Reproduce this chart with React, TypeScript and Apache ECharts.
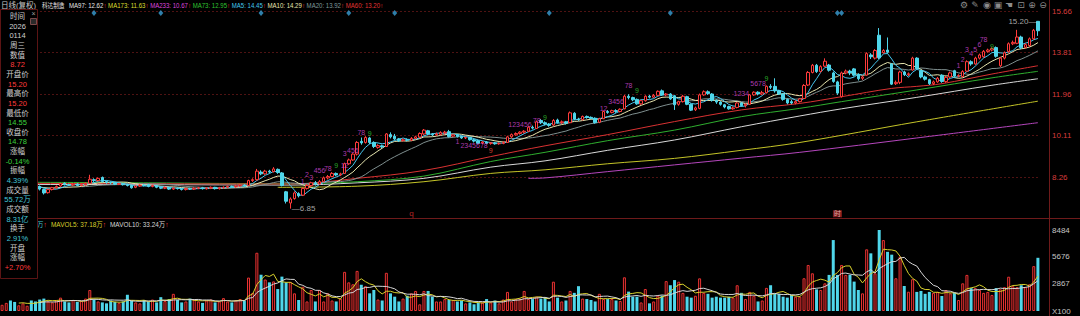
import React, { useEffect, useRef } from 'react';
import * as echarts from 'echarts';

const FONT = '"Liberation Sans", "Noto Sans CJK SC", sans-serif';
const UP = '#ff3b3b';
const DOWN = '#4fd6ea';
const GREEN = '#3cd23c';
const TEAL = '#42c6d8';
const LABEL = '#cfcfcf';

// [open, close, low, high]
const candlesPre = [
  [7.78,7.82,7.74,7.86],[7.82,7.86,7.78,7.90],[7.88,7.80,7.76,7.92],[7.80,7.76,7.72,7.84],[7.76,7.80,7.72,7.84],
  [7.80,7.84,7.76,7.88],[7.84,7.86,7.80,7.90],[7.90,7.84,7.80,7.92],[7.86,7.84,7.80,7.90]];
const candlesA = [
  [7.84,7.72,7.66,7.88],[7.70,7.55,7.48,7.74],[7.56,7.70,7.52,7.74],[7.70,7.78,7.66,7.82],[7.78,7.84,7.74,7.88],
  [7.86,7.96,7.82,8.00],[7.98,7.92,7.88,8.02],[7.92,7.90,7.86,7.96],[7.90,7.94,7.86,7.98],[7.94,7.88,7.84,7.98],
  [7.88,7.92,7.85,7.96],[7.92,7.98,7.88,8.02],[7.98,8.16,7.95,8.36],[8.14,8.10,8.04,8.20],[8.10,8.20,8.06,8.24],
  [8.24,8.06,8.02,8.28],[8.06,8.02,7.96,8.10],[8.02,8.00,7.94,8.06],[8.00,7.94,7.90,8.04],[7.94,7.96,7.90,8.00],
  [7.96,7.92,7.88,7.99],[7.92,7.88,7.84,7.96],[7.88,7.78,7.74,7.92],[7.80,7.86,7.76,7.90],[7.86,7.90,7.82,7.94],
  [7.90,7.88,7.84,7.95],[7.92,7.84,7.80,7.96],[7.84,7.88,7.80,7.92],[7.88,7.80,7.76,7.90],[7.80,7.76,7.72,7.84],
  [7.76,7.80,7.72,7.84],[7.80,7.72,7.68,7.82],[7.72,7.76,7.68,7.80],[7.76,7.74,7.70,7.80],[7.74,7.70,7.66,7.78],
  [7.70,7.74,7.66,7.78],[7.74,7.72,7.68,7.78],[7.72,7.76,7.68,7.80],[7.76,7.78,7.72,7.82],[7.78,7.74,7.70,7.82],
  [7.74,7.76,7.70,7.80],[7.76,7.80,7.72,7.84],[7.80,7.74,7.70,7.82],[7.74,7.78,7.70,7.82],[7.78,7.80,7.74,7.84],
  [7.80,7.84,7.76,7.88],[7.84,7.82,7.78,7.88],[7.82,7.86,7.78,7.90],[7.86,7.90,7.82,7.94],[7.90,7.86,7.82,7.94],
  [7.88,8.10,7.86,8.14],[8.10,8.14,8.04,8.20],[8.14,8.52,8.10,8.62],[8.48,8.40,8.34,8.56],[8.40,8.52,8.36,8.58],
  [8.52,8.48,8.42,8.58],[8.50,8.62,8.46,8.70],[8.60,8.46,8.40,8.64],[8.44,7.88,7.84,8.48],[7.60,7.18,7.08,7.64]];
const candlesB = [
  [7.10,7.28,6.85,7.35],[7.30,7.55,7.25,7.62],[7.52,7.42,7.35,7.58],[7.45,7.75,7.42,7.80],[7.75,7.88,7.70,7.95],
  [7.88,8.00,7.82,8.05],[8.00,7.95,7.88,8.08],[7.95,8.05,7.92,8.12],[8.05,8.22,8.02,8.28],[8.22,8.28,8.15,8.35],
  [8.28,8.42,8.25,8.48],[8.42,8.35,8.30,8.46],[8.36,8.40,8.30,8.45],[8.42,8.85,8.40,8.90],[8.85,9.02,8.80,9.08],
  [9.02,9.28,8.98,9.32],[9.28,9.80,9.22,9.86],[9.85,9.78,9.70,10.02],[9.80,10.02,9.75,10.08],[10.00,9.80,9.72,10.05],
  [9.80,9.62,9.55,9.85],[9.58,9.66,9.52,9.72],[9.65,9.60,9.55,9.70],[9.62,10.18,9.60,10.22],[10.15,10.05,9.98,10.25],
  [10.08,9.96,9.90,10.18],[9.96,9.88,9.82,10.00],[9.88,9.92,9.84,9.98],[9.92,9.90,9.85,9.98],[9.90,9.98,9.86,10.04],
  [9.98,10.05,9.94,10.10],[10.04,10.20,10.00,10.25],[10.18,10.35,10.12,10.40],[10.32,10.18,10.12,10.36],[10.18,10.14,10.08,10.22],
  [10.14,10.18,10.10,10.24],[10.16,10.24,10.12,10.30],[10.22,10.26,10.16,10.32],[10.28,10.06,10.02,10.36],[10.08,10.14,10.04,10.18],
  [10.14,10.06,10.02,10.18],[10.06,10.00,9.96,10.10],[10.00,10.02,9.95,10.06],[10.02,9.92,9.88,10.05],[9.92,9.86,9.80,9.96],
  [9.88,9.76,9.72,9.92],[9.78,9.82,9.72,9.86],[9.82,9.76,9.72,9.86],[9.76,9.78,9.70,9.82],[9.78,9.74,9.70,9.82],
  [9.74,9.76,9.70,9.80],[9.76,9.80,9.72,9.85],[9.80,10.05,9.78,10.10],[10.05,10.15,10.00,10.20],[10.14,10.20,10.10,10.25],
  [10.20,10.26,10.15,10.30],[10.26,10.30,10.20,10.35],[10.30,10.48,10.26,10.52],[10.48,10.44,10.38,10.55],[10.42,10.72,10.40,10.78],
  [10.78,10.68,10.62,10.84]];
const candlesC = [
  [10.68,10.62,10.56,10.74],[10.62,10.56,10.50,10.66],[10.58,10.78,10.54,10.84],[10.80,10.68,10.64,10.86],[10.68,10.72,10.62,10.78],
  [10.72,10.66,10.60,10.76],[10.68,11.12,10.66,11.18],[11.10,10.84,10.80,11.15],[10.84,10.82,10.76,10.90],[10.82,10.96,10.78,11.00],
  [10.96,10.92,10.86,11.00],[10.92,10.88,10.84,10.96],[10.88,10.68,10.64,10.92],[10.70,10.86,10.66,10.90],[10.86,11.18,10.84,11.22],
  [11.18,11.14,11.08,11.24],[11.14,11.22,11.10,11.26],[11.22,11.18,11.12,11.28],[11.18,11.28,11.14,11.32],[11.30,11.86,11.28,11.92],
  [11.86,11.80,11.72,11.95],[11.80,11.70,11.64,11.84],[11.72,11.52,11.48,11.76],[11.52,11.66,11.48,11.70],[11.66,11.86,11.62,11.90],
  [11.86,11.82,11.76,11.92],[11.82,11.90,11.78,11.96],[11.90,12.08,11.86,12.12],[12.10,11.92,11.88,12.16],[11.92,11.96,11.86,12.00],
  [11.96,11.74,11.70,12.00],[11.88,11.48,11.25,11.92],[11.50,11.62,11.44,11.66],[11.62,11.86,11.58,11.92],[11.84,11.50,11.46,11.88],
  [11.50,11.24,11.20,11.54],[11.26,11.34,11.20,11.40],[11.32,11.92,11.28,11.98],[11.92,12.06,11.88,12.12],[12.06,11.98,11.92,12.12],
  [11.96,11.68,11.62,12.00],[11.68,11.60,11.52,11.72],[11.60,11.50,11.44,11.64],[11.48,11.38,11.32,11.52],[11.40,11.30,11.26,11.44],
  [11.30,11.34,11.26,11.40],[11.36,11.56,11.32,11.60],[11.56,11.44,11.40,11.60],[11.44,11.50,11.36,11.54],[11.50,11.92,11.48,11.96],
  [11.92,12.04,11.88,12.08],[12.04,11.96,11.90,12.08],[11.96,12.02,11.92,12.10],[12.02,12.30,11.98,12.34],[12.30,12.26,12.18,12.40],
  [12.30,12.10,12.02,12.66],[12.10,11.96,11.92,12.14],[11.96,11.72,11.66,12.00],[11.72,11.56,11.50,11.76]];
const candlesD = [
  [11.62,11.56,11.50,11.70],[11.56,11.62,11.50,11.68],[11.62,11.74,11.58,11.78],[11.76,12.34,11.74,12.40],[12.36,12.92,12.32,12.98],
  [12.92,13.24,12.88,13.30],[13.24,12.96,12.90,13.30],[12.96,13.18,12.92,13.24],[13.20,13.42,13.16,13.55],[13.25,13.02,12.96,13.30],
  [12.90,12.52,12.46,12.96],[12.50,12.00,11.92,12.55],[11.84,12.90,11.80,12.96],[12.90,12.98,12.84,13.05],[12.98,12.90,12.80,13.04],
  [13.08,12.80,12.74,13.12],[12.82,12.64,12.56,12.88],[12.66,12.72,12.58,12.78],[12.80,13.76,12.78,13.82],[13.70,13.62,13.52,13.78],
  [13.56,13.90,13.50,13.96],[14.58,13.58,13.52,14.90],[13.80,13.90,13.76,13.96],[13.92,13.82,13.76,14.48],[13.30,12.40,12.36,13.34],
  [12.42,12.48,12.36,12.56],[12.48,12.94,12.40,13.00],[12.94,12.82,12.76,13.00],[12.82,12.86,12.76,12.92],[13.03,13.56,13.00,13.62],
  [13.56,13.10,13.04,13.60],[13.00,12.72,12.66,13.04],[12.72,12.62,12.56,12.78],[12.60,12.42,12.36,12.64],[12.42,12.50,12.36,12.56],
  [12.50,12.66,12.46,12.72],[12.80,12.52,12.46,12.84],[12.52,12.70,12.46,12.76],[12.72,12.90,12.68,12.96],[13.00,12.76,12.70,13.04],
  [12.76,12.78,12.70,12.84],[12.74,12.96,12.70,13.02],[12.98,13.40,12.94,13.46],[13.40,13.30,13.22,13.46],[13.30,13.56,13.26,13.62],
  [13.56,13.70,13.50,13.76],[13.62,13.86,13.58,13.92],[13.86,13.92,13.80,13.98],[13.92,13.98,13.86,14.04],[14.03,13.64,13.58,14.08],
  [13.22,13.56,13.16,13.62],[13.56,13.80,13.50,13.86],[13.85,14.20,13.80,14.26],[14.20,14.26,14.14,14.34],[14.22,14.50,14.18,14.82],
  [14.50,14.02,13.96,14.56],[14.04,14.16,13.98,14.22],[14.12,14.42,14.06,14.48],[14.42,14.80,14.38,14.86],[15.20,14.78,14.55,15.20]];

// volume, unit x100 shares
const volPre = [650, 850, 1100, 950, 600, 800, 550, 1100, 1000];
const volA = [
  1200,1300,1000,900,1100,1400,1000,900,1150,950, 1050,1300,2200,1200,1000,900,800,1100,950,850,
  1000,1700,1100,900,800,1150,1000,1200,900,1450, 1050,1250,1800,1150,900,1000,1300,1200,1000,850,
  1100,1200,900,1000,1350,1000,900,1150,1250,1100, 3500,1900,6100,3800,3300,3000,3100,2300,3600,3000];
const volB = [
  3040,1850,1150,2540,1000,2200,1000,2200,1000,1850, 1100,1000,1300,4100,3000,2800,4200,2750,2600,1850,
  2200,1200,1100,4000,1850,1500,1000,1300,1600,1850, 2100,700,2100,2100,1500,1000,1000,1250,1150,1150,
  1000,1100,800,900,700,900,900,1250,900,1100, 800,1200,2000,1000,1250,1250,2100,1250,1250,1500, 1300];
const volC = [
  1400,1000,3070,1400,1000,1100,2100,1900,2600,1300, 1250,1150,1000,1800,1250,1250,1250,1100,1050,3530,
  2030,1500,1500,900,2300,800,1000,1600,1600,3130, 2700,3240,3070,1900,1500,1400,1600,3420,1900,1800,
  1400,1500,1400,1400,1500,1400,2700,1900,1250,2000, 1600,1000,1100,2420,2700,1800,1800,1500,1400];
const volD = [
  1680,1500,1500,3430,4820,3950,2270,2200,2900,3780, 7430,3780,4820,3780,3780,3080,2200,1850,6460,6040,
  3950,8484,7430,6200,5900,3430,5690,2620,2020,3330, 2000,2100,1800,2000,1900,2000,1570,2200,1850,1900,
  1150,2900,3780,2400,2400,2200,1900,2000,1680,2400, 2270,2500,3590,2600,2500,2700,2500,2800,4700,5572];

// long moving averages: [candle index, value]
const ma60Pts = [[0,7.98],[35,7.96],[69,7.95],[85,8.2],[101,8.55],[117,9.17],[130,9.65],[145,10.15],[161,10.73],[177,11.25],[191,11.54],[201,11.84],[213,12.21],[219,12.3],[225,12.42],[237,12.85],[248,13.22]];
const ma73Pts = [[0,8.03],[35,8.0],[69,7.96],[85,8.05],[101,8.3],[117,8.95],[130,9.36],[145,9.88],[161,10.35],[177,10.95],[191,11.32],[201,11.62],[219,12.14],[237,12.68],[248,12.97]];
const ma97Pts = [[0,7.93],[35,7.92],[69,7.9],[85,8.0],[101,8.2],[117,8.7],[130,8.98],[145,9.45],[161,9.91],[177,10.5],[191,10.98],[201,11.3],[219,11.81],[237,12.35],[248,12.64]];
const ma173Pts = [[66,7.8],[85,7.85],[101,8.05],[117,8.42],[130,8.58],[145,8.85],[161,9.09],[177,9.45],[191,9.8],[219,10.72],[248,11.64]];
const ma233Pts = [[126,8.2],[130,8.22],[145,8.5],[161,8.8],[177,9.1],[191,9.36],[219,10.0],[248,10.68]];

// event markers and sequence counts
const eventIdx = [22, 38, 62, 83, 94, 131, 160, 200, 201];
const PURP = '#d84ad8', GRN = '#34d034', ORG = '#ff4a3a';
const tdLabels: [number, number, string, string][] = [
  [72,8.05,'1',PURP],[73,8.38,'2',PURP],[74,8.23,'3',PURP],[76,8.53,'456',PURP],[78,8.66,'78',PURP],[80,8.79,'9',GRN],
  [82,8.76,'12',PURP],[82,9.30,'3',PURP],[84,9.43,'456',PURP],[86,10.25,'78',PURP],[88,10.18,'9',GRN],
  [109,9.83,'1',PURP],[113,9.65,'2345678',PURP],[117,9.46,'9',ORG],
  [124,10.58,'123456',PURP],[128,10.76,'78',PURP],[130,10.92,'9',GRN],
  [144,11.32,'12',PURP],[147,11.62,'3456',PURP],[150,12.32,'78',PURP],[152,12.11,'9',GRN],
  [177,11.99,'1234',PURP],[181,12.41,'5678',PURP],[183,12.66,'9',GRN],
  [229,13.25,'1',PURP],[230,13.48,'2',PURP],[231,13.95,'3',PURP],[232,13.78,'4',PURP],[233,13.95,'5',PURP],
  [234,14.18,'6',PURP],[235,14.40,'78',PURP],[237,14.07,'9',GRN]];
const bottomMarks: [number, string][] = [[98, 'q'], [200, '时']];

const priceTicks = [8.26, 10.11, 11.96, 13.81, 15.66];
const volTicks = [0, 2867, 5676, 8484];

const headerItems: [string, string][] = [
  ['MA97: 12.62', '#e6e6e6'], ['MA173: 11.63', '#dede30'], ['MA233: 10.67', '#de46de'],
  ['MA73: 12.95', '#30c030'], ['MA5: 14.45', '#44c8f0'], ['MA10: 14.29', '#e8e6b0'],
  ['MA20: 13.92', '#7f9a9a'], ['MA60: 13.20', '#e03434']];
const panelRows: [string, string][] = [
  ['时间', LABEL], ['2026', LABEL], ['0114', LABEL], ['周三', LABEL], ['数值', LABEL], ['8.72', UP],
  ['开盘价', LABEL], ['15.20', UP], ['最高价', LABEL], ['15.20', UP], ['最低价', LABEL], ['14.55', GREEN],
  ['收盘价', LABEL], ['14.78', GREEN], ['涨幅', LABEL], ['-0.14%', GREEN], ['振幅', LABEL], ['4.39%', TEAL],
  ['成交量', LABEL], ['55.72万', TEAL], ['成交额', LABEL], ['8.31亿', TEAL], ['换手', LABEL], ['2.91%', TEAL],
  ['开盘', LABEL], ['涨幅', LABEL], ['+2.70%', UP]];
const toolIcons: [number, string][] = [[964, '⚙'], [975, '✎'], [987, '◉'], [998, '▣'], [1009, '☚'], [1021, '⊡'], [1032, '⊕'], [1043, '⊖']];

const candles = [...candlesPre, ...candlesA, ...candlesB, ...candlesC, ...candlesD];
const volumes = [...volPre, ...volA, ...volB, ...volC, ...volD];

function movingAvg(arr: number[], n: number) {
  return arr.map((_, i) => {
    if (i < n - 1) return null;
    let s = 0;
    for (let k = i - n + 1; k <= i; k++) s += arr[k];
    return +(s / n).toFixed(3);
  });
}
function sparse(pts: number[][], n: number) {
  const a: (number | null)[] = new Array(n).fill(null);
  pts.forEach(([i, v]) => { a[i] = v; });
  return a;
}

function richLine(items: [string, string][], size: number) {
  const rich: any = { r: { fill: UP, color: UP, fontSize: size, fontFamily: FONT } };
  const parts = items.map(([t, c], k) => {
    rich['c' + k] = { fill: c, color: c, fontSize: size, fontFamily: FONT };
    return `{c${k}|${t}}{r|↑}`;
  });
  return { text: parts.join(' '), rich };
}

function buildOption() {
  const N = candles.length;
  const cats = candles.map((_, i) => String(i));
  const closes = candles.map((c) => c[1]);
  let minI = 0, maxI = 0;
  candles.forEach((c, i) => {
    if (c[2] < candles[minI][2]) minI = i;
    if (c[3] > candles[maxI][3]) maxI = i;
  });

  const lineS = (name: string, data: any[], color: string, sparseLine = false) => ({
    name, type: 'line', xAxisIndex: 0, yAxisIndex: 0, data, symbol: 'none', silent: true,
    connectNulls: sparseLine, smooth: sparseLine ? 0.35 : false,
    lineStyle: { color, width: 1 }, z: 2,
  });

  const graphics: any[] = [];
  // frame lines
  graphics.push({ type: 'line', shape: { x1: 0, y1: 218.5, x2: 1080, y2: 218.5 }, style: { stroke: '#6e1a1a', lineWidth: 1 }, z: 50 });
  graphics.push({ type: 'line', shape: { x1: 1049.5, y1: 0, x2: 1049.5, y2: 316 }, style: { stroke: '#6e1a1a', lineWidth: 1 }, z: 50 });
  // header
  graphics.push({ type: 'text', x: 1, y: 5, style: { text: '日线(复权)', fill: '#c8c8c8', fontSize: 7.5, fontFamily: FONT, textVerticalAlign: 'middle' }, z: 60 });
  graphics.push({ type: 'text', x: 42, y: 5, scaleX: 0.8, style: { text: '科达制造', fill: '#e6e6e6', fontSize: 7, fontFamily: FONT, textVerticalAlign: 'middle' }, z: 60 });
  const hdr = richLine(headerItems, 6.6);
  graphics.push({ type: 'text', x: 69, y: 5, scaleX: 0.92, z: 60, style: { text: hdr.text, rich: hdr.rich, fontSize: 6.6, fontFamily: FONT, textVerticalAlign: 'middle' } });
  toolIcons.forEach(([x, t]) => {
    graphics.push({ type: 'text', x, y: 5, z: 60, style: { text: t, fill: '#8c8c8c', fontSize: 9, fontFamily: '"DejaVu Sans", sans-serif', textAlign: 'center', textVerticalAlign: 'middle' } });
  });
  // volume legend
  const volLegend: [number, [string, string][]][] = [[37, [['万', TEAL]]], [51, [['MAVOL5: 37.18万', '#d8d02c']]], [110, [['MAVOL10: 33.24万', '#d6d6d6']]]];
  volLegend.forEach(([x, items]) => {
    const r = richLine(items, 7);
    graphics.push({ type: 'text', x, y: 224, z: 60, scaleX: 0.92, style: { text: r.text, rich: r.rich, fontSize: 7, fontFamily: FONT, textVerticalAlign: 'middle' } });
  });
  // info panel
  graphics.push({ type: 'rect', shape: { x: 0.5, y: 9.5, width: 37, height: 269 }, style: { fill: '#000', stroke: '#5c1414', lineWidth: 1 }, z: 70 });
  graphics.push({ type: 'text', x: 33.5, y: 13.5, z: 71, style: { text: '×', fill: '#a0a0a0', fontSize: 7, fontFamily: FONT, textAlign: 'center', textVerticalAlign: 'middle' } });
  graphics.push({ type: 'rect', shape: { x: 30.5, y: 18.5, width: 6, height: 6 }, style: { fill: '#2a2a2a', stroke: '#7a4a4a', lineWidth: 1 }, z: 71 });
  panelRows.forEach(([t, c], k) => {
    graphics.push({ type: 'text', x: 17.5, y: 16.5 + 9.65 * k, z: 71, style: { text: t, fill: c, fontSize: 7.5, fontFamily: FONT, textAlign: 'center', textVerticalAlign: 'middle' } });
  });

  const volData = volumes.map((v, i) => {
    const up = candles[i][1] >= candles[i][0];
    return { value: v, itemStyle: up ? { color: '#1a0000', borderColor: '#e83232', borderWidth: 1 } : { color: DOWN, borderColor: DOWN, borderWidth: 0 } };
  });

  return {
    animation: false,
    backgroundColor: '#000',
    textStyle: { fontFamily: FONT },
    grid: [
      { left: 0, right: 40, top: 11, height: 207.5 },
      { left: 0, right: 40, top: 230, height: 81 },
    ],
    xAxis: [
      { type: 'category', gridIndex: 0, data: cats, boundaryGap: true, show: false },
      { type: 'category', gridIndex: 1, data: cats, boundaryGap: true, show: false },
    ],
    yAxis: [
      {
        type: 'value', gridIndex: 0, position: 'right', offset: 9, min: 6.41, max: 15.66, scale: true,
        axisLine: { show: false },
        axisTick: { show: false, customValues: priceTicks },
        axisLabel: { customValues: priceTicks, formatter: (v: number) => v.toFixed(2), color: '#d83c3c', fontSize: 8, margin: 3, fontFamily: FONT },
        splitLine: { show: true, lineStyle: { color: '#4e1212', type: [2, 2], width: 1 } },
      },
      {
        type: 'value', gridIndex: 1, position: 'right', offset: 9, min: 0, max: 8484,
        axisLine: { show: false },
        axisTick: { show: false, customValues: volTicks },
        axisLabel: { customValues: volTicks, formatter: (v: number) => (v === 0 ? 'X100' : String(Math.round(v))), color: '#c4c4c4', fontSize: 8, margin: 3, fontFamily: FONT },
        splitLine: { show: false },
      },
    ],
    series: [
      lineS('MA233', sparse(ma233Pts, N), '#b446bc', true),
      lineS('MA173', sparse(ma173Pts, N), '#c4c428', true),
      lineS('MA97', sparse(ma97Pts, N), '#d8d8d8', true),
      lineS('MA73', sparse(ma73Pts, N), '#2fae2f', true),
      lineS('MA60', sparse(ma60Pts, N), '#d83232', true),
      lineS('MA20', movingAvg(closes, 20), '#7f8f8f'),
      lineS('MA10', movingAvg(closes, 10), '#e8e6b0'),
      lineS('MA5', movingAvg(closes, 5), '#47c6ef'),
      {
        name: 'K', type: 'candlestick', xAxisIndex: 0, yAxisIndex: 0, barWidth: 3, z: 3,
        data: candles.map((c) => [c[0], c[1], c[2], c[3]]),
        itemStyle: { color: '#000', color0: DOWN, borderColor: UP, borderColor0: DOWN, borderWidth: 1 },
      },
      {
        name: 'events', type: 'scatter', xAxisIndex: 0, yAxisIndex: 0, symbol: 'diamond', symbolSize: [5, 6], z: 4,
        itemStyle: { color: '#3a9fd5' }, data: eventIdx.map((i) => [i, 15.57]),
      },
      {
        name: 'td', type: 'scatter', xAxisIndex: 0, yAxisIndex: 0, symbolSize: 1, z: 5,
        itemStyle: { color: 'rgba(0,0,0,0)' },
        label: { show: true, position: 'inside', formatter: '{b}', fontSize: 7, fontFamily: FONT },
        data: tdLabels.map(([i, p, t, c]) => ({ name: t, value: [i, p], label: { color: c } })),
      },
      {
        name: 'extremes', type: 'scatter', xAxisIndex: 0, yAxisIndex: 0, symbolSize: 1, z: 5,
        itemStyle: { color: 'rgba(0,0,0,0)' },
        data: [
          { value: [minI, candles[minI][2]], label: { show: true, position: 'right', distance: 1, formatter: '—' + candles[minI][2].toFixed(2), color: '#cfcfcf', fontSize: 8, fontFamily: FONT } },
          { value: [maxI, candles[maxI][3]], label: { show: true, position: 'left', distance: 1, formatter: candles[maxI][3].toFixed(2) + '—', color: '#cfcfcf', fontSize: 8, fontFamily: FONT } },
        ],
      },
      {
        name: 'marks', type: 'scatter', xAxisIndex: 0, yAxisIndex: 0, symbolSize: 1, z: 5,
        itemStyle: { color: 'rgba(0,0,0,0)' },
        data: bottomMarks.map(([i, t]) => ({
          name: t, value: [i, 6.62],
          label: t === 'q'
            ? { show: true, position: 'inside', formatter: '{b}', color: '#e03030', fontSize: 8, fontFamily: FONT }
            : { show: true, position: 'inside', formatter: '{b}', color: '#ffd0d0', backgroundColor: '#9a2020', padding: [0, 1], fontSize: 7, fontFamily: FONT },
        })),
      },
      {
        name: 'VOL', type: 'bar', xAxisIndex: 1, yAxisIndex: 1, barWidth: 3, data: volData,
      },
      {
        name: 'MAVOL5', type: 'line', xAxisIndex: 1, yAxisIndex: 1, data: movingAvg(volumes, 5), symbol: 'none',
        lineStyle: { color: '#d8d02c', width: 1 }, z: 4,
      },
      {
        name: 'MAVOL10', type: 'line', xAxisIndex: 1, yAxisIndex: 1, data: movingAvg(volumes, 10), symbol: 'none',
        lineStyle: { color: '#d6d6d6', width: 1 }, z: 4,
      },
    ],
    graphic: graphics,
  };
}

export default function App() {
  const ref = useRef<HTMLDivElement>(null);
  useEffect(() => {
    document.body.style.margin = '0';
    document.body.style.background = '#000';
    const chart = echarts.init(ref.current!, null, { renderer: 'svg' });
    chart.setOption(buildOption() as any);
    return () => chart.dispose();
  }, []);
  return <div ref={ref} style={{ width: 1080, height: 316, background: '#000' }} />;
}
